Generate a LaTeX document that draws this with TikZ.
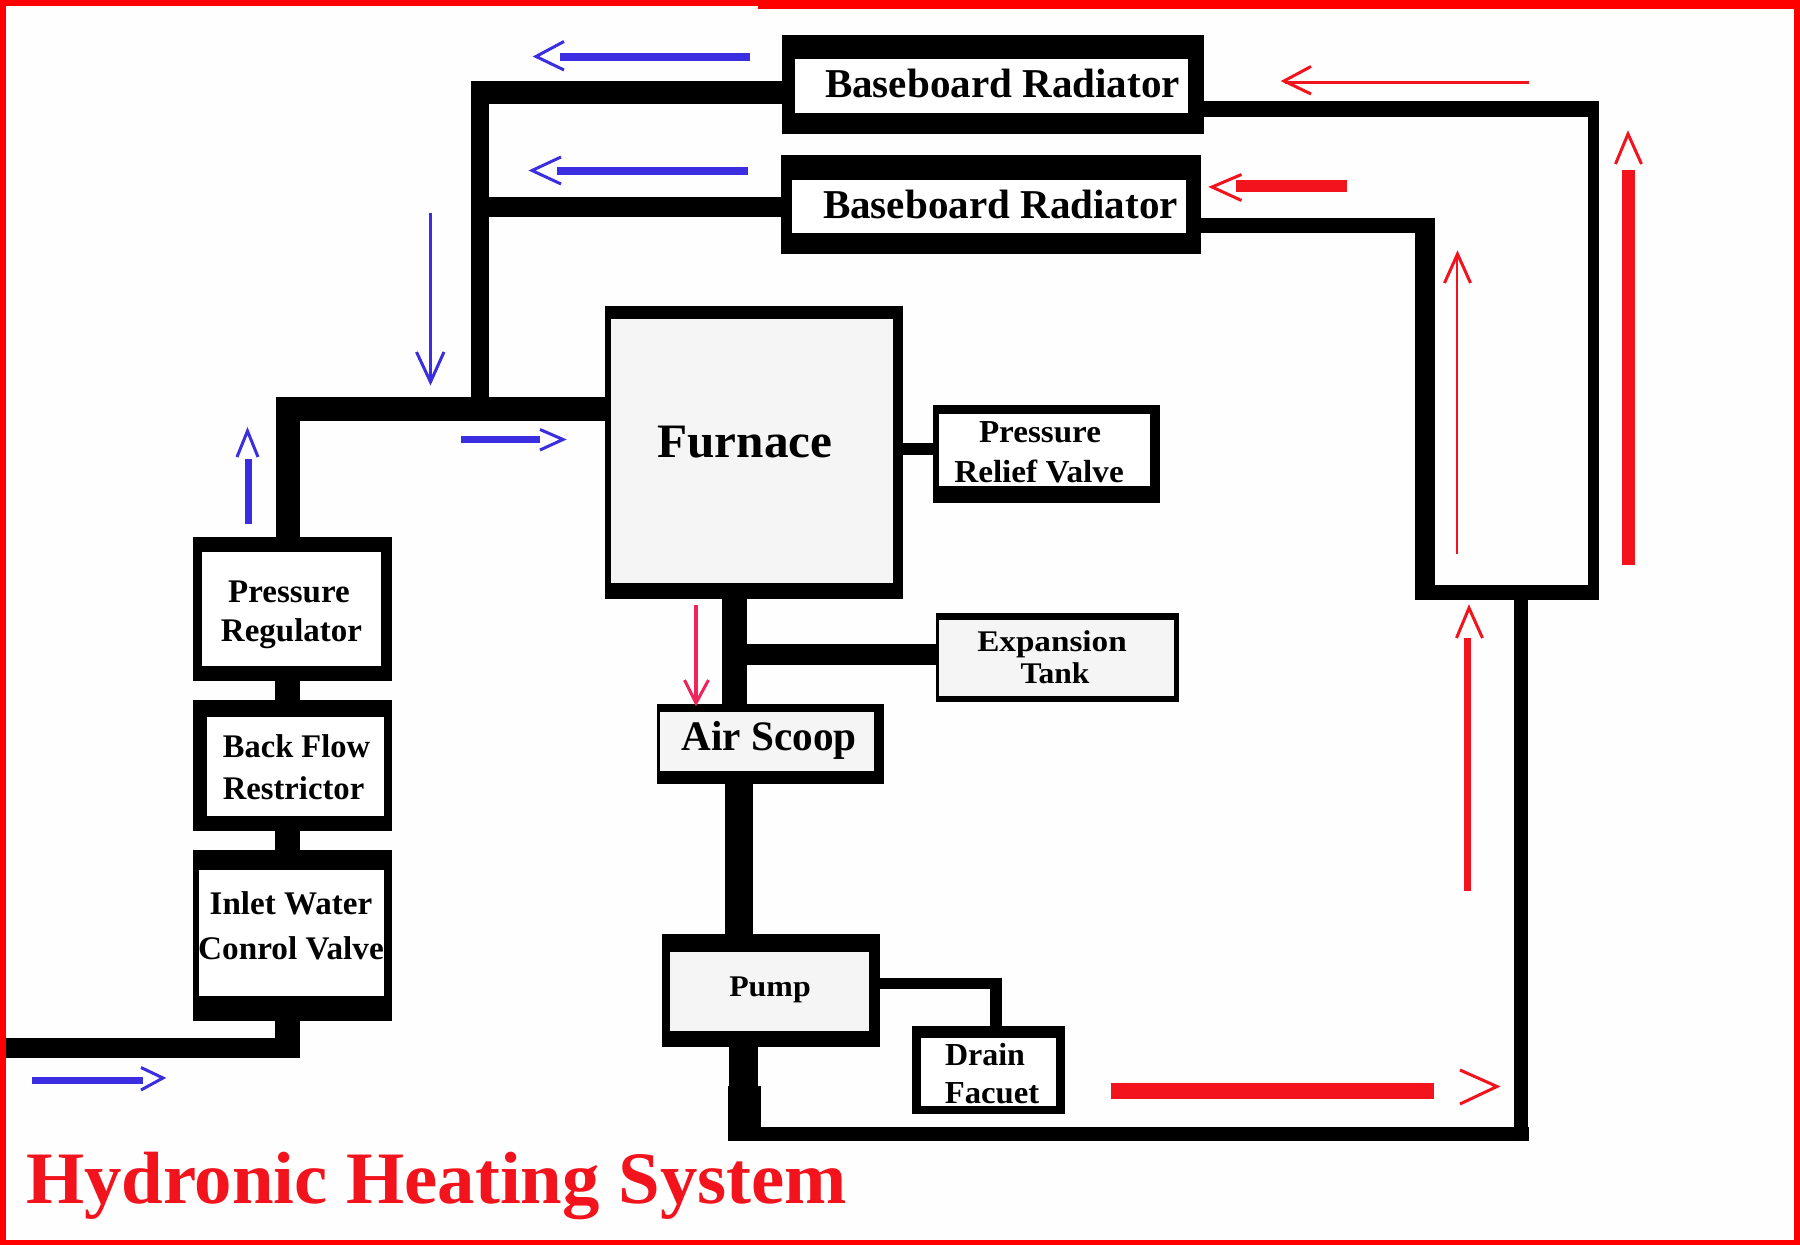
\documentclass[tikz,border=0pt]{standalone}
\usepackage{fontspec}
\usepackage{graphicx}
\setmainfont{Liberation Serif}
\definecolor{flowblue}{HTML}{3A2EE0}
\definecolor{flowred}{HTML}{F2131C}
\definecolor{flowpink}{HTML}{F0245A}
\definecolor{frame}{HTML}{FF0000}
\definecolor{paper}{HTML}{FEFEFE}
\definecolor{panel}{HTML}{F6F5F6}
% \rectnode[options]{name}{x1}{y1}{x2}{y2}
\newcommand{\rectnode}[6][]{%
  \pgfmathsetmacro\rcx{(#3+#5)/2}\pgfmathsetmacro\rcy{(#4+#6)/2}%
  \pgfmathsetmacro\rw{(#5-#3)*0.5}\pgfmathsetmacro\rh{(#6-#4)*0.5}%
  \node[boxshape,minimum width=\rw pt,minimum height=\rh pt,#1] (#2) at (\rcx,\rcy) {};}
% \lbl[colour]{name}{centre x}{baseline y}{em px}{width px}{text}
\newcommand{\lbl}[7][black]{%
  \pgfmathsetlengthmacro\lblsize{#5*0.5}%
  \pgfmathsetlengthmacro\lblw{#6*0.5}%
  \node[anchor=base,inner sep=0pt,outer sep=0pt,text=#1] (#2) at (#3,#4)
    {\resizebox{\lblw}{\height}{\fontsize{\lblsize}{\lblsize}\selectfont\bfseries #7}};}
% \flow{name}{colour}{line width px}{x1,y1}{x2,y2}{barb a}{tip}{barb b}
\newcommand{\flow}[8]{%
  \coordinate (#1-a) at (#4); \coordinate (#1-b) at (#5);
  \coordinate (#1-c) at (#6); \coordinate (#1-t) at (#7); \coordinate (#1-d) at (#8);
  \draw[draw=#2,line width=#3*0.5pt] (#1-a) -- (#1-b);
  \draw[draw=#2,barb] (#1-c) -- (#1-t) -- (#1-d);}
\tikzset{
  boxshape/.style={rectangle,inner sep=0pt,outer sep=0pt,fill=black},
  inwhite/.style={fill=white},
  inpanel/.style={fill=panel},
  pipe/.style={draw=black,line width=#1*0.5pt},
  barb/.style={line width=1.5pt,miter limit=10,line join=miter}
}
\begin{document}
\begin{tikzpicture}[x=0.5pt,y=-0.5pt]
\useasboundingbox (0,0) rectangle (1800,1245);
\fill[paper] (0,0) rectangle (1800,1245);
% frame
\fill[frame] (0,0) rectangle (6,1245);
\fill[frame] (0,0) rectangle (758,6);
\fill[frame] (758,0) rectangle (1800,9);
\fill[frame] (1794,0) rectangle (1800,1245);
\fill[frame] (0,1240) rectangle (1800,1245);
% boxes, outer shells
\rectnode{radA}{782}{35}{1204}{134.5}
\rectnode{radB}{781}{155}{1201}{254}
\rectnode{furnace}{604.5}{306}{903}{599}
\rectnode{relief}{933}{405}{1159.5}{503}
\rectnode{tank}{936}{613}{1179}{702.5}
\rectnode{scoop}{657}{704.5}{884}{784}
\rectnode{pump}{662}{934}{879.5}{1047}
\rectnode{drain}{911.5}{1026}{1065}{1114}
\rectnode{regulator}{193}{537}{391.5}{680.6}
\rectnode{backflow}{193}{700}{391.5}{831}
\rectnode{inlet}{193}{850}{391.5}{1020.5}
% boxes, inner panels
\rectnode[inwhite]{radA-in}{795}{59}{1188}{113.5}
\rectnode[inwhite]{radB-in}{792}{180}{1186}{233}
\rectnode[inpanel]{furnace-in}{611}{319.5}{893}{583}
\rectnode[inwhite]{relief-in}{939}{414}{1150}{485.6}
\rectnode[inpanel]{tank-in}{939}{620}{1174}{696}
\rectnode[inpanel]{scoop-in}{660}{712}{874}{770.6}
\rectnode[inpanel]{pump-in}{670}{951.6}{868.5}{1031}
\rectnode[inwhite]{drain-in}{921}{1038}{1056}{1106}
\rectnode[inwhite]{regulator-in}{202}{551.6}{381}{666}
\rectnode[inwhite]{backflow-in}{207}{717}{383.5}{816}
\rectnode[inwhite]{inlet-in}{199}{870}{383.5}{995.5}
% pipes
\draw[pipe=23] (radA.west |- 0,92.5) -- (471,92.5);
\coordinate (supplyTop) at (480,81);
\coordinate (supplyFoot) at (480,398);
\draw[pipe=18] (supplyTop) -- (supplyFoot);
\draw[pipe=20.5] (radB.west |- 0,207) -- (489,207);
\coordinate (teeW) at (275.5,409);
\draw[pipe=23.5] (teeW) -- (furnace.west |- teeW);
\draw[pipe=24.5] (288,397.5) -- (regulator.north -| 288,0);
\draw[pipe=25] (regulator.south -| 287,0) -- (backflow.north -| 287,0);
\draw[pipe=25] (backflow.south -| 287,0) -- (inlet.north -| 287,0);
\draw[pipe=25] (inlet.south -| 287,0) -- (287,1058);
\coordinate (mainsIn) at (6,1048);
\draw[pipe=19.5] (mainsIn) -- (300,1048);
\draw[pipe=12] (furnace.east |- 0,449.5) -- (relief.west |- 0,449.5);
\draw[pipe=25] (furnace.south -| 734.5,0) -- (scoop.north -| 734.5,0);
\draw[pipe=21] (747,654.5) -- (tank.west |- 0,654.5);
\draw[pipe=28.5] (scoop.south -| 739,0) -- (pump.north -| 739,0);
\draw[pipe=11] (pump.east |- 0,983) -- (1001.6,983);
\draw[pipe=11.5] (996,977.5) -- (drain.north -| 996,0);
\draw[pipe=29] (pump.south -| 743.5,0) -- (743.5,1086);
\draw[pipe=33] (744.5,1086) -- (744.5,1141);
\coordinate (retW) at (728,1134);
\coordinate (retE) at (1528.5,1134);
\draw[pipe=14] (retW) -- (retE);
\draw[pipe=14.5] (1521,1141) -- (1521,592);
\coordinate (splitW) at (1415.5,592.5);
\coordinate (splitE) at (1599,592.5);
\draw[pipe=15] (splitW) -- (splitE);
\draw[pipe=19.5] (1425,600) -- (1425,218);
\draw[pipe=15] (1435,225.5) -- (radB.east |- 0,225.5);
\draw[pipe=11] (1593.5,600) -- (1593.5,101);
\draw[pipe=15.5] (1599,109) -- (radA.east |- 0,109);
% blue flow arrows
\flow{fb1}{flowblue}{8}{750,57.3}{560,57.3}{564,41.5}{536,56.5}{564,70}
\flow{fb2}{flowblue}{8}{748,171}{557,171}{561,157}{532,170.5}{561,184}
\flow{fb3}{flowblue}{2.5}{430.5,213.5}{430.5,380}{416.5,352}{430.5,382}{444,352}
\flow{fb4}{flowblue}{7}{248,524}{248,459}{237,457}{247.5,431}{258,457}
\flow{fb5}{flowblue}{7}{461,440}{540,440}{540,429.5}{563,439.5}{540,450}
\flow{fb6}{flowblue}{7}{32,1080}{143,1080}{141,1067.5}{163,1078}{141,1090}
% red flow arrows
\flow{fp1}{flowpink}{3.5}{696,605}{696,700}{684.5,680}{696,703}{708.5,680}
\flow{fr1}{flowred}{2.5}{1528.6,82.6}{1285,82.6}{1311,66.5}{1284,81}{1311,94}
\flow{fr2}{flowred}{12.6}{1346.6,186}{1236,186}{1241.5,174.5}{1212,187}{1241.5,200.5}
\flow{fr3}{flowred}{2.5}{1457,553.6}{1457,255}{1444.5,283}{1457.5,254}{1470.5,283}
\flow{fr4}{flowred}{13}{1628,565.5}{1628,170}{1615.5,164}{1628,134}{1641.5,164}
\flow{fr5}{flowred}{7}{1467,891}{1467,638}{1456.5,638}{1469,608}{1482.5,638}
\flow{fr6}{flowred}{15.5}{1110.7,1091}{1434,1091}{1460,1070}{1497,1086.5}{1460,1104}
% labels
\lbl{tA}{1002.5}{98}{41}{355}{Baseboard Radiator}
\lbl{tB}{1000.5}{219}{41}{355}{Baseboard Radiator}
\lbl{tFurnace}{745}{458}{48}{175}{Furnace}
\lbl{tRel1}{1040}{443}{32}{122}{Pressure}
\lbl{tRel2}{1039}{483}{32}{169.5}{Relief Valve}
\lbl{tTank1}{1052}{652}{30}{149.5}{Expansion}
\lbl{tTank2}{1055}{683}{30}{69}{Tank}
\lbl{tScoop}{769}{750.5}{42}{175}{Air Scoop}
\lbl{tPump}{770}{996.6}{30}{81.5}{Pump}
\lbl{tDrain1}{985}{1065}{32}{80}{Drain}
\lbl{tDrain2}{992}{1103}{32}{94.5}{Facuet}
\lbl{tReg1}{289}{603}{33}{121.5}{Pressure}
\lbl{tReg2}{291.5}{642}{33}{141}{Regulator}
\lbl{tBack1}{296.5}{758}{33}{147}{Back Flow}
\lbl{tBack2}{293.5}{799}{33}{141.5}{Restrictor}
\lbl{tIn1}{291}{914}{33}{162.5}{Inlet Water}
\lbl{tIn2}{291}{959}{33}{185.5}{Conrol Valve}
\lbl[flowred]{tTitle}{436.5}{1203}{74}{821}{Hydronic Heating System}
\end{tikzpicture}
\end{document}
